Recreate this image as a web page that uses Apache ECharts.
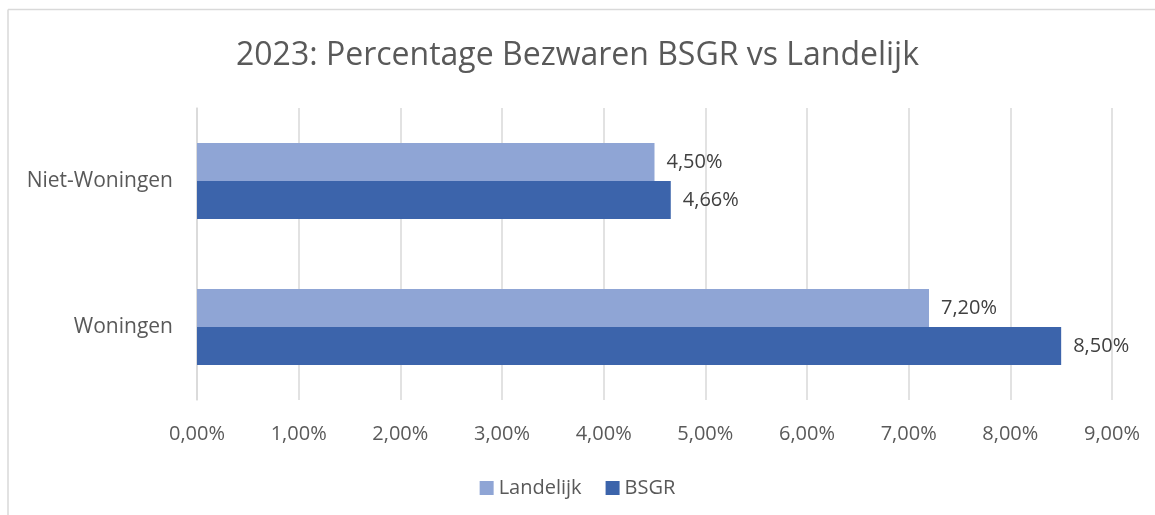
<!DOCTYPE html>
<html>
<head>
<meta charset="utf-8">
<script src="https://cdn.jsdelivr.net/npm/echarts@6/dist/echarts.min.js"></script>
<style>
  html, body { margin: 0; padding: 0; background: #fff; }
  #chart { width: 1155px; height: 515px; }
</style>
</head>
<body>
<div id="chart"></div>
<script>
// data
const categories = ['Niet-Woningen', 'Woningen']
const landelijk = [4.50, 7.20]
const bsgr = [4.66, 8.50]
const xTicks = [0, 1, 2, 3, 4, 5, 6, 7, 8, 9]

const fmt = v => v.toFixed(2).replace('.', ',') + '%'
const font = '"Open Sans", "Noto Sans", sans-serif'

let chart = echarts.init(document.getElementById('chart'))
chart.setOption({
    backgroundColor: '#fff',
    animation: false,
    graphic: [
        // frame of the chart area (only top and left visible)
        {type: 'line', shape: {x1: 8, y1: 9.5, x2: 1155, y2: 9.5}, style: {stroke: '#d9d9d9', lineWidth: 1.5}},
        {type: 'line', shape: {x1: 8, y1: 9.5, x2: 8, y2: 515}, style: {stroke: '#d9d9d9', lineWidth: 1.5}}
    ],
    title: {
        text: '2023: Percentage Bezwaren BSGR vs Landelijk',
        left: 'center',
        top: 35,
        textStyle: {fontFamily: font, fontSize: 32, fontWeight: 'normal', color: '#595959'}
    },
    legend: {
        bottom: 12,
        left: 'center',
        itemWidth: 14,
        itemHeight: 14,
        itemGap: 24,
        icon: 'rect',
        textStyle: {fontFamily: font, fontSize: 20, color: '#595959'},
        data: ['Landelijk', 'BSGR']
    },
    grid: {left: 197, right: 43, top: 108, bottom: 115},
    xAxis: {
        type: 'value',
        min: xTicks[0],
        max: xTicks[xTicks.length - 1],
        interval: 1,
        axisLine: {show: false},
        axisTick: {show: false},
        splitLine: {lineStyle: {color: '#d9d9d9', width: 1.5}},
        axisLabel: {formatter: fmt, margin: 24, fontFamily: font, fontSize: 20, color: '#595959'}
    },
    yAxis: {
        type: 'category',
        inverse: true,
        data: categories,
        axisLine: {lineStyle: {color: '#d9d9d9', width: 1.5}},
        axisTick: {show: false},
        axisLabel: {margin: 24, fontFamily: font, fontSize: 21, color: '#595959'}
    },
    series: [
        {
            name: 'Landelijk',
            type: 'bar',
            data: landelijk,
            barGap: '0%',
            barCategoryGap: '48%',
            itemStyle: {color: '#8fa5d5'},
            label: {show: true, position: 'right', distance: 12, formatter: p => fmt(p.value),
                fontFamily: font, fontSize: 20, color: '#404040'}
        },
        {
            name: 'BSGR',
            type: 'bar',
            data: bsgr,
            itemStyle: {color: '#3c64ab'},
            label: {show: true, position: 'right', distance: 12, formatter: p => fmt(p.value),
                fontFamily: font, fontSize: 20, color: '#404040'}
        }
    ]
})
</script>
</body>
</html>
